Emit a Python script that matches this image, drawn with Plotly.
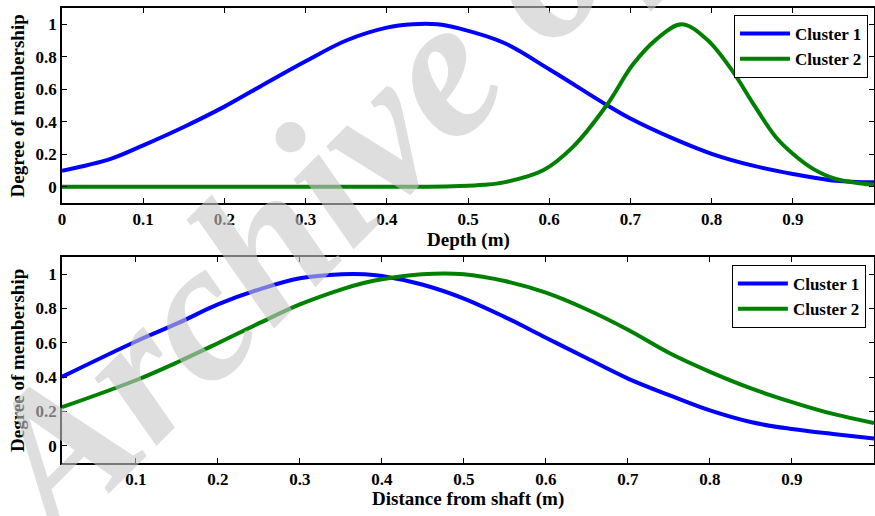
import plotly.graph_objects as go

# ---- Data ----
depth_x1 = [0.0, 0.06, 0.1, 0.15, 0.2, 0.25, 0.3, 0.35, 0.4, 0.432, 0.462, 0.49, 0.544,
            0.601, 0.671, 0.7, 0.753, 0.8, 0.851, 0.9, 0.953, 1.0]
depth_c1 = [0.099, 0.172, 0.255, 0.368, 0.493, 0.634, 0.772, 0.9, 0.979, 1.0, 1.0, 0.973, 0.886,
            0.72, 0.503, 0.42, 0.296, 0.203, 0.13, 0.079, 0.037, 0.027]

depth_x2 = [0.0, 0.1, 0.2, 0.3, 0.4, 0.45, 0.49, 0.52, 0.544, 0.592, 0.629, 0.671, 0.703, 0.732,
            0.763, 0.794, 0.826, 0.851, 0.879, 0.9, 0.925, 0.953, 1.0]
depth_c2 = [0.0, 0.0, 0.0, 0.0, 0.0, 0.0, 0.004, 0.012, 0.027, 0.1, 0.244, 0.503, 0.752, 0.907,
            1.0, 0.907, 0.71, 0.513, 0.306, 0.203, 0.11, 0.048, 0.012]

dist_x = [0.01, 0.1, 0.152, 0.2, 0.251, 0.3, 0.351, 0.379, 0.4, 0.449, 0.5, 0.55, 0.6,
          0.65, 0.7, 0.751, 0.8, 0.851, 0.9, 0.95, 1.0]
dist_c1 = [0.402, 0.608, 0.716, 0.824, 0.912, 0.976, 1.0, 1.0, 0.99, 0.94, 0.858, 0.75, 0.63,
           0.51, 0.392, 0.294, 0.206, 0.137, 0.098, 0.069, 0.043]
dist_c2 = [0.225, 0.382, 0.49, 0.598, 0.716, 0.824, 0.912, 0.95, 0.971, 1.0, 1.0, 0.96, 0.892,
           0.794, 0.676, 0.539, 0.431, 0.333, 0.255, 0.186, 0.133]

series_names = ["Cluster 1", "Cluster 2"]
series_colors = ["#0000FF", "#008000"]

x_ticks_top = [0, 0.1, 0.2, 0.3, 0.4, 0.5, 0.6, 0.7, 0.8, 0.9, 1.0]
x_ticktext_top = ["0", "0.1", "0.2", "0.3", "0.4", "0.5", "0.6", "0.7", "0.8", "0.9", "1"]
x_ticks_bot = [0.1, 0.2, 0.3, 0.4, 0.5, 0.6, 0.7, 0.8, 0.9, 1.0]
x_ticktext_bot = ["0.1", "0.2", "0.3", "0.4", "0.5", "0.6", "0.7", "0.8", "0.9", "1"]
y_ticks = [0, 0.2, 0.4, 0.6, 0.8, 1.0]
y_ticktext = ["0", "0.2", "0.4", "0.6", "0.8", "1"]

FONT = "Liberation Serif"
SMOOTH = 1.0

fig = go.Figure()

fig.add_trace(go.Scatter(x=depth_x1, y=depth_c1, name=series_names[0], mode="lines",
                         line=dict(color=series_colors[0], width=4, shape="spline", smoothing=SMOOTH),
                         xaxis="x", yaxis="y", legend="legend"))
fig.add_trace(go.Scatter(x=depth_x2, y=depth_c2, name=series_names[1], mode="lines",
                         line=dict(color=series_colors[1], width=4, shape="spline", smoothing=SMOOTH),
                         xaxis="x", yaxis="y", legend="legend"))
fig.add_trace(go.Scatter(x=dist_x, y=dist_c1, name=series_names[0], mode="lines",
                         line=dict(color=series_colors[0], width=4, shape="spline", smoothing=SMOOTH),
                         xaxis="x2", yaxis="y2", legend="legend2"))
fig.add_trace(go.Scatter(x=dist_x, y=dist_c2, name=series_names[1], mode="lines",
                         line=dict(color=series_colors[1], width=4, shape="spline", smoothing=SMOOTH),
                         xaxis="x2", yaxis="y2", legend="legend2"))

axis_common = dict(showline=True, linecolor="black", linewidth=1.5, mirror="ticks",
                   ticks="inside", ticklen=5, tickcolor="black", tickwidth=1,
                   showgrid=False, zeroline=False, automargin=False, ticklabelstandoff=0,
                   tickfont=dict(family=FONT, size=17, color="black", weight="bold"))

title_font = dict(family=FONT, size=19, color="black", weight="bold")
legend_font = dict(family=FONT, size=17, color="black", weight="bold")

fig.update_layout(
    width=875, height=516,
    margin=dict(l=62, r=1, t=8, b=53, autoexpand=False),
    paper_bgcolor="white", plot_bgcolor="white",
    font=dict(family=FONT, color="black"),
    xaxis=dict(domain=[0, 1], anchor="y", range=[0, 1], tickvals=x_ticks_top,
               ticktext=x_ticktext_top, **axis_common),
    yaxis=dict(domain=[0.5714, 1.0], anchor="x", range=[-0.1, 1.1], tickvals=y_ticks,
               ticktext=y_ticktext, **axis_common),
    xaxis2=dict(domain=[0, 1], anchor="y2", range=[0.01, 1], tickvals=x_ticks_bot,
                ticktext=x_ticktext_bot, **axis_common),
    yaxis2=dict(domain=[0, 0.4527], anchor="x2", range=[-0.1, 1.1], tickvals=y_ticks,
                ticktext=y_ticktext, **axis_common),
    legend=dict(x=0.9926, y=0.9846, xanchor="right", yanchor="top",
                bordercolor="black", borderwidth=1, bgcolor="white", font=legend_font,
                itemwidth=50),
    legend2=dict(x=0.99, y=0.4352, xanchor="right", yanchor="top",
                 bordercolor="black", borderwidth=1, bgcolor="white", font=legend_font,
                 itemwidth=50),
    showlegend=True,
)

# axis titles
fig.add_annotation(text="Depth (m)", xref="paper", yref="paper", x=0.5, y=0.4901,
                   xanchor="center", yanchor="middle", showarrow=False, font=title_font)
fig.add_annotation(text="Distance from shaft (m)", xref="paper", yref="paper", x=0.5, y=-0.0791,
                   xanchor="center", yanchor="middle", showarrow=False, font=title_font)
fig.add_annotation(text="Degree of membership", xref="paper", yref="paper", x=-0.0542, y=0.7857,
                   xanchor="center", yanchor="middle", showarrow=False, textangle=-90, font=title_font)
fig.add_annotation(text="Degree of membership", xref="paper", yref="paper", x=-0.0542, y=0.2264,
                   xanchor="center", yanchor="middle", showarrow=False, textangle=-90, font=title_font)

# watermark
fig.add_annotation(text="Archive of SID", xref="paper", yref="paper", x=0.475, y=0.886,
                   xanchor="center", yanchor="middle", showarrow=False, textangle=-45,
                   font=dict(family=FONT, size=200, color="rgba(200,200,200,0.6)",
                             weight="bold", style="italic"))

fig.write_html("out.html", config={"displayModeBar": False},
               post_script="document.body.style.margin='0';document.body.style.padding='0';"
                           "document.body.style.overflow='hidden';")
